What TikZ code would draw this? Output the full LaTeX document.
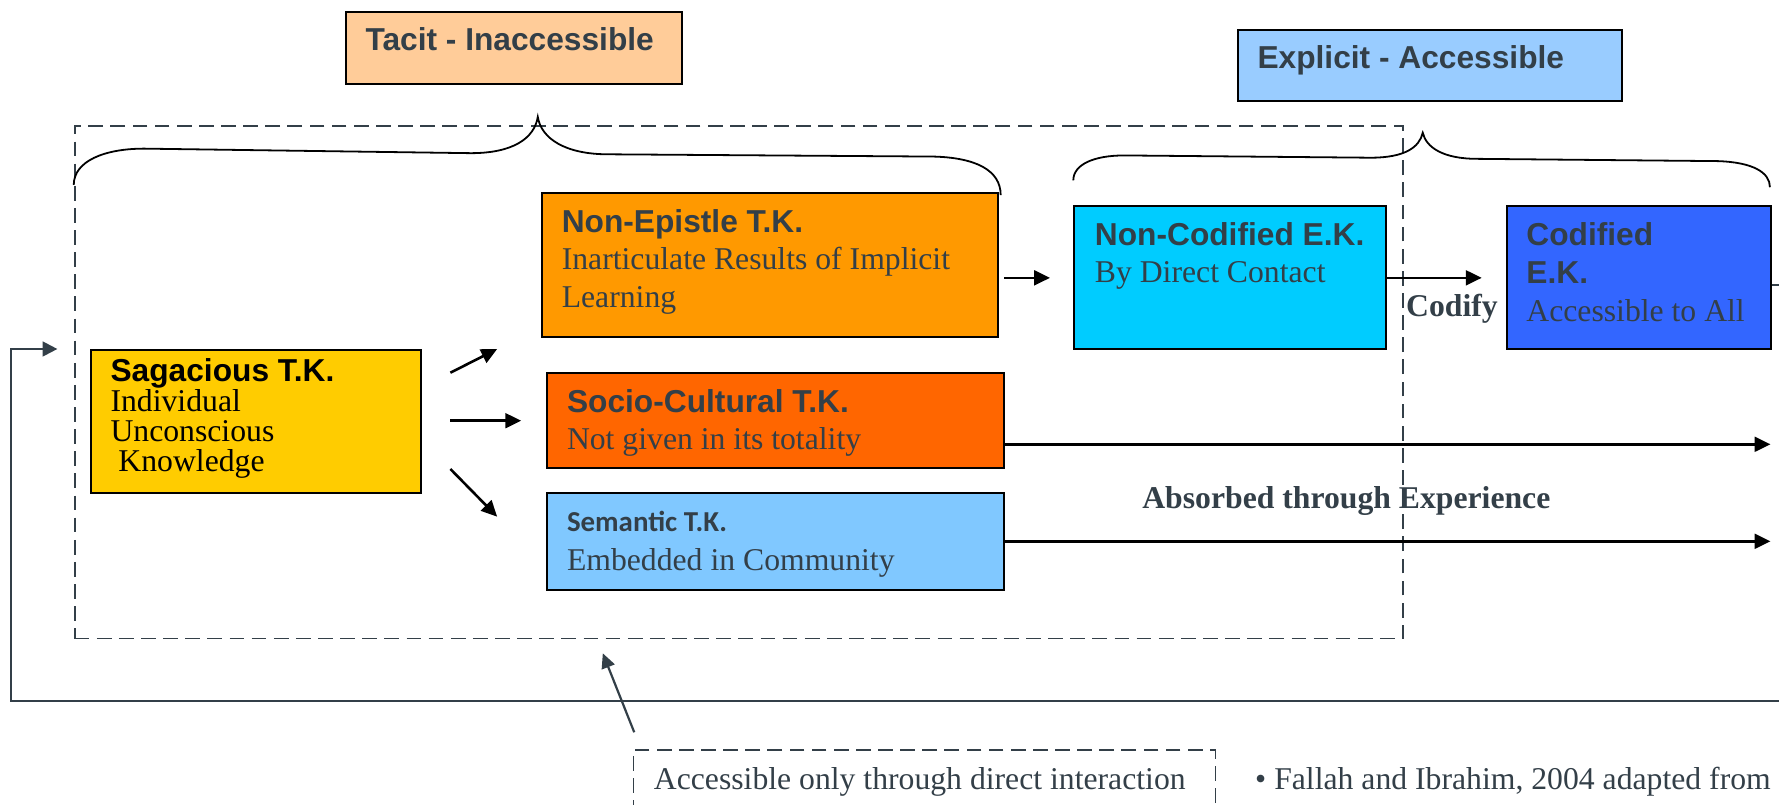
\documentclass[tikz,border=0pt]{standalone}
\usepackage{fontspec}
\setmainfont{Liberation Serif}
\setsansfont{Liberation Sans}
\newfontfamily\calibrifont{Carlito}
\usetikzlibrary{arrows.meta}

\definecolor{slate}{RGB}{51,63,72}
\definecolor{peach}{HTML}{FFCC99}
\definecolor{skyblue}{HTML}{99CCFF}
\definecolor{amber}{HTML}{FF9900}
\definecolor{cyanfill}{HTML}{00CCFF}
\definecolor{royal}{HTML}{3366FF}
\definecolor{gold}{HTML}{FFCC00}
\definecolor{rust}{HTML}{FF6600}
\definecolor{paleblue}{HTML}{80C8FF}

\newcommand{\hdr}[1]{{\sffamily\bfseries #1}}

\begin{document}
\begin{tikzpicture}[x=0.2mm, y=-0.2mm,
  kbox/.style={draw, line width=1pt, anchor=north west, inner sep=0pt},
  txt/.style={anchor=base west, inner sep=0pt, align=left, text=slate, font=\fontsize{15.9}{18.8}\selectfont},
  arr/.style={-{Triangle[length=2.8mm, width=2.6mm]}, line width=1.3pt},
  brc/.style={line width=0.9pt},
  dashbox/.style={draw=slate, line width=0.9pt, dash pattern=on 2.6mm off 1.3mm},
  back/.style={draw=slate, line width=1.1pt}
]
\useasboundingbox (0,0) rectangle (1568,709.5);
\clip (0,0) rectangle (1568,709.5);

% headings
\node[kbox, fill=peach, minimum width=59.2mm, minimum height=12.6mm] (tacit) at (304,10) {};
\node[txt] (tacit-t) at (321.8,44.7) {\hdr{Tacit - Inaccessible}};
\node[kbox, fill=skyblue, minimum width=67.8mm, minimum height=12.4mm] (expl) at (1090,26) {};
\node[txt] (expl-t) at (1108,60.2) {\hdr{Explicit - Accessible}};

% tacit region
\node[dashbox, anchor=north west, inner sep=0pt, minimum width=234.2mm, minimum height=90.4mm] (region) at (65,110) {};

% braces
\draw[brc] (65,163) .. controls (65,142) and (92,131) .. (127,131) -- (415,135)
  .. controls (452,135) and (471,122) .. (474,103)
  .. controls (477,122) and (498,136) .. (536,136) -- (823,138)
  .. controls (860,139) and (882,150) .. (882,172);
\draw[brc] (946,159) .. controls (946,145) and (964,137) .. (991,137) -- (1208,139)
  .. controls (1238,139) and (1251,130) .. (1254,117)
  .. controls (1257,130) and (1272,140) .. (1302,140) -- (1514,142)
  .. controls (1545,143) and (1560,152) .. (1560,165);

% knowledge boxes (text nodes sit on their last baseline)
\node[kbox, fill=gold, minimum width=58.2mm, minimum height=25.2mm] (sagac) at (79,308) {};
\node[txt, text=black, font=\fontsize{15.9}{15.1}\selectfont] (sagac-t) at (97.1,415.7)
  {\hdr{Sagacious T.K.}\\Individual\\Unconscious\\\ Knowledge};

\node[kbox, fill=amber, minimum width=80.4mm, minimum height=25.4mm] (nonep) at (477,169) {};
\node[txt] (nonep-t) at (494.8,270.9) {\hdr{Non-Epistle T.K.}\\Inarticulate Results of Implicit\\Learning};

\node[kbox, fill=rust, minimum width=80.6mm, minimum height=16.8mm] (socio) at (481,328) {};
\node[txt] (socio-t) at (499.4,396.6) {\hdr{Socio-Cultural T.K.}\\Not given in its totality};

\node[kbox, fill=paleblue, minimum width=80.6mm, minimum height=17mm] (seman) at (481,434) {};
\node[txt, font=\fontsize{15.9}{19.5}\selectfont] (seman-t) at (499.4,502.4)
  {{\calibrifont\bfseries\fontsize{14.5}{19.5}\selectfont Semantic T.K.}\\Embedded in Community};

\node[kbox, fill=cyanfill, minimum width=55mm, minimum height=25.2mm] (noncod) at (946,181) {};
\node[txt] (noncod-t) at (964.7,249.1) {\hdr{Non-Codified E.K.}\\By Direct Contact};

\node[kbox, fill=royal, minimum width=46.6mm, minimum height=25.2mm] (cod) at (1327,181) {};
\node[txt, font=\fontsize{15.9}{19.2}\selectfont] (cod-t) at (1345,283.5)
  {\hdr{Codified}\\\hdr{E.K.}\\Accessible to All};

% arrows out of the sagacious box
\coordinate (up0) at (397,328.5);   \coordinate (up1) at (438.2,307.6);
\coordinate (mid0) at (397,370.8);  \coordinate (mid1) at (459.4,370.8);
\coordinate (dn0) at (397,413.4);   \coordinate (dn1) at (438.2,455.4);
\draw[arr] (up0) -- (up1);
\draw[arr] (mid0) -- (mid1);
\draw[arr] (dn0) -- (dn1);

% towards explicit knowledge
\draw[arr, shorten <=0.9mm, shorten >=4.1mm] (nonep.east |- noncod.west) -- (noncod.west);
\draw[arr, shorten >=4.2mm] (noncod.east) -- (cod.west);
\node[txt, font=\fontsize{15.9}{18.8}\selectfont\bfseries] (codify) at (1239,279) {Codify};
\coordinate (stub) at (1575,251.2);
\draw[back, line width=0.8pt] (cod.east |- stub) -- (stub);

\coordinate (socioR) at (1560.5,391.6);
\coordinate (semanR) at (1560.5,477.1);
\draw[arr] (socio.east |- socioR) -- (socioR);
\draw[arr] (seman.east |- semanR) -- (semanR);
\node[txt, font=\fontsize{15.9}{18.8}\selectfont\bfseries] (absorb) at (1006.5,447.8) {Absorbed through Experience};

% feedback loop
\coordinate (loopR) at (1580,617.5);
\coordinate (loopT) at (9.5,307.6);
\coordinate (loopE) at (50.6,307.6);
\draw[back, -{Triangle[length=2.6mm, width=2.6mm]}] (loopR) -| (loopT) -- (loopE);

% note below
\node[dashbox, anchor=north west, inner sep=0pt, minimum width=102.6mm, minimum height=16mm] (direct) at (557.6,660) {};
\node[txt] (direct-t) at (576,695.7) {Accessible only through direct interaction};
\coordinate (direct0) at (559,645.4);
\coordinate (direct1) at (531.3,575.8);
\draw[back, -{Triangle[length=2.6mm, width=2.4mm]}] (direct0) -- (direct1);

\node[txt] (source) at (1106,695.7) {\textbullet\ Fallah and Ibrahim, 2004 adapted from};
\end{tikzpicture}
\end{document}
